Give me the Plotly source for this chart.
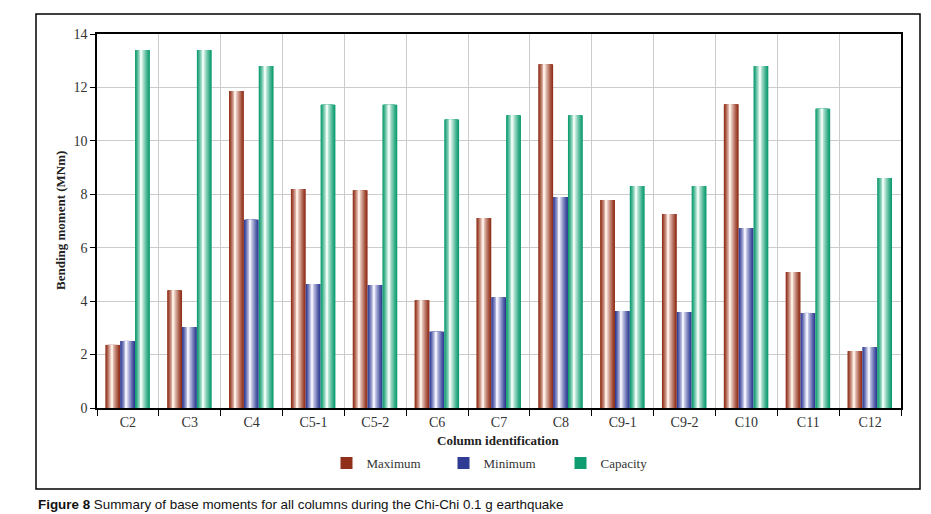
import plotly.graph_objects as go

categories = ["C2", "C3", "C4", "C5-1", "C5-2", "C6", "C7", "C8", "C9-1", "C9-2", "C10", "C11", "C12"]
maximum = [2.36, 4.41, 11.87, 8.2, 8.15, 4.03, 7.11, 12.87, 7.79, 7.26, 11.37, 5.09, 2.13]
minimum = [2.51, 3.03, 7.05, 4.64, 4.6, 2.85, 4.15, 7.9, 3.63, 3.59, 6.74, 3.56, 2.28]
capacity = [13.4, 13.4, 12.8, 11.35, 11.35, 10.8, 10.96, 10.96, 8.31, 8.31, 12.8, 11.2, 8.61]
y_ticks = [0, 2, 4, 6, 8, 10, 12, 14]

series = [
    ("Maximum", maximum, (145, 48, 26), (252, 236, 228)),
    ("Minimum", minimum, (48, 60, 148), (240, 240, 252)),
    ("Capacity", capacity, (14, 156, 112), (236, 250, 244)),
]

BAR_W = 0.24
GROUP_START = -0.365
N_LAYERS = 10

def mix(a, b, t):
    return "rgb(%d,%d,%d)" % tuple(round(a[i] + (b[i] - a[i]) * t) for i in range(3))

fig = go.Figure()
for s, (name, vals, dark, light) in enumerate(series):
    left = GROUP_START + s * BAR_W
    hl = left + BAR_W * 0.42  # highlight position
    for k in range(N_LAYERS):
        t = k / (N_LAYERS - 1)
        frac = 1 - t * 0.93
        centre = (left + BAR_W / 2) * (1 - t) + hl * t
        w = BAR_W * frac
        l = max(left, centre - w / 2)
        r = min(left + BAR_W, centre + w / 2)
        fig.add_trace(go.Bar(
            x=categories, y=vals, name=name,
            width=r - l, offset=l,
            marker=dict(color=mix(dark, light, t ** 1.2), line=dict(width=0)),
            showlegend=(k == 0), legendgroup=name, hoverinfo="skip",
        ))

serif = "Liberation Serif, DejaVu Serif, serif"

# page has an 8px body margin, so the figure is offset by (8, 8)
OFF = 8
PL, PT, PW, PH = 97 - OFF, 34 - OFF, 804, 374
FW, FH = 931 - OFF, 514 - OFF

def px(x):
    return (x - 97) / PW

def py(y):
    return (408 - y) / PH

fig.update_layout(
    width=FW, height=FH,
    barmode="overlay",
    paper_bgcolor="white", plot_bgcolor="white",
    margin=dict(l=PL, r=FW - PL - PW, t=PT, b=FH - PT - PH, pad=0),
    font=dict(family=serif, size=14, color="#333"),
    showlegend=True,
    legend=dict(orientation="h", x=px(502), xanchor="center", y=py(463), yanchor="middle",
                font=dict(family=serif, size=13, color="#333"),
                entrywidth=72, entrywidthmode="pixels",
                bgcolor="rgba(0,0,0,0)"),
    xaxis=dict(type="category", tickson="boundaries", ticks="outside", ticklen=6,
               tickcolor="black", showline=True, linecolor="black", linewidth=1.5,
               mirror=True, showgrid=True, gridcolor="#cccccc", gridwidth=1,
               tickfont=dict(family=serif, size=14, color="#333")),
    yaxis=dict(range=[0, 14], tickvals=y_ticks, ticks="outside", ticklen=5,
               tickcolor="black", showline=True, linecolor="black", linewidth=1.5,
               mirror=True, showgrid=True, gridcolor="#cccccc", gridwidth=1,
               zeroline=False, tickfont=dict(family=serif, size=14, color="#333")),
    shapes=[dict(type="rect", xref="paper", yref="paper",
                 x0=px(36), x1=px(920), y0=py(489), y1=py(14),
                 line=dict(color="black", width=1.5), fillcolor="rgba(0,0,0,0)")],
    annotations=[
        dict(text="<b>Column identification</b>", xref="paper", yref="paper",
             x=px(498), y=py(441), showarrow=False,
             xanchor="center", yanchor="middle",
             font=dict(family=serif, size=13, color="#222")),
        dict(text="<b>Bending moment (MNm)</b>", xref="paper", yref="paper",
             x=px(60), y=py(221), textangle=-90, showarrow=False,
             xanchor="center", yanchor="middle",
             font=dict(family=serif, size=13, color="#222")),
        dict(text="<b>Figure 8</b> Summary of base moments for all columns during the Chi-Chi 0.1 g earthquake",
             xref="paper", yref="paper", x=px(36), y=py(504),
             showarrow=False, xanchor="left", yanchor="middle",
             font=dict(family="Liberation Sans Narrow, Liberation Sans, sans-serif", size=13.4, color="#111")),
    ],
)

fig.write_html("out.html")
